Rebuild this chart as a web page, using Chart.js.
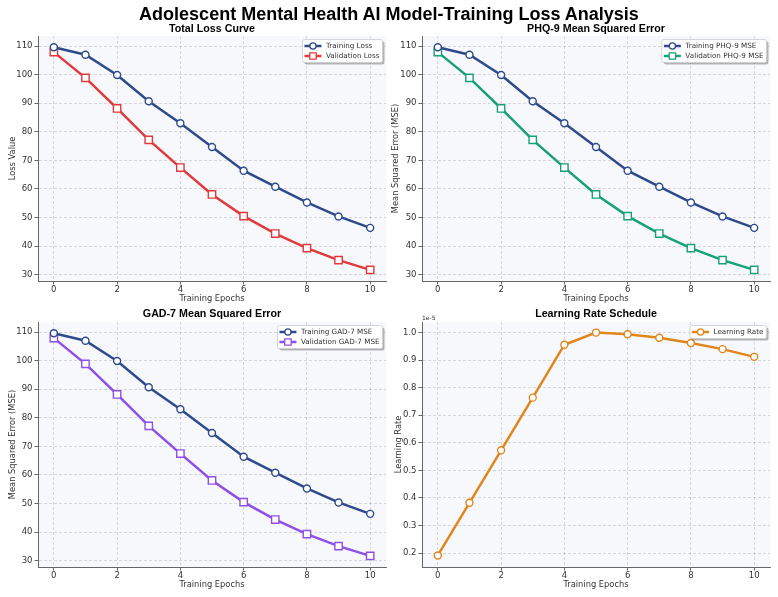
<!DOCTYPE html>
<html>
<head>
<meta charset="utf-8">
<script src="https://cdn.jsdelivr.net/npm/chart.js@4.4.1/dist/chart.umd.min.js"></script>
<style>
  body{margin:0;background:#fff;width:778px;height:597px;overflow:hidden;position:relative}
  canvas{position:absolute}
  #title{position:absolute;left:0;top:4px;width:778px;text-align:center;font:bold 18px "Liberation Sans",Arial,sans-serif;color:#000}
</style>
</head>
<body>
<canvas id="c1" width="396" height="305" style="left:0;top:0;width:396px;height:305px"></canvas>
<canvas id="c2" width="389" height="305" style="left:389px;top:0;width:389px;height:305px"></canvas>
<canvas id="c3" width="396" height="297" style="left:0;top:300px;width:396px;height:297px"></canvas>
<canvas id="c4" width="389" height="297" style="left:389px;top:300px;width:389px;height:297px"></canvas>
<div id="title">Adolescent Mental Health AI Model-Training Loss Analysis</div>
<script>
// data
const epochs = [0, 1, 2, 3, 4, 5, 6, 7, 8, 9, 10];
const trainLoss = [109.6, 107.0, 99.9, 90.7, 83.0, 74.7, 66.4, 60.8, 55.3, 50.4, 46.4];
const valLoss   = [107.9, 98.9, 88.2, 77.2, 67.5, 58.1, 50.5, 44.4, 39.3, 35.1, 31.7];
const trainPhq  = [109.6, 107.0, 99.9, 90.7, 83.0, 74.7, 66.4, 60.8, 55.3, 50.4, 46.4];
const valPhq    = [107.9, 98.9, 88.2, 77.2, 67.5, 58.1, 50.5, 44.4, 39.3, 35.1, 31.7];
const trainGad  = [109.6, 107.0, 99.9, 90.7, 83.0, 74.7, 66.4, 60.8, 55.3, 50.4, 46.4];
const valGad    = [107.9, 98.9, 88.2, 77.2, 67.5, 58.1, 50.5, 44.4, 39.3, 35.1, 31.7];
const learningRate = [1.915e-6, 3.825e-6, 5.73e-6, 7.64e-6, 9.56e-6, 1.0e-5, 9.94e-6, 9.81e-6, 9.62e-6, 9.40e-6, 9.12e-6];
const epochTicks = [0, 2, 4, 6, 8, 10];
const lossTicks = [30, 40, 50, 60, 70, 80, 90, 100, 110];
const lrTicks = [0.2e-5, 0.3e-5, 0.4e-5, 0.5e-5, 0.6e-5, 0.7e-5, 0.8e-5, 0.9e-5, 1.0e-5];

const BLUE = "#2f4a8c", RED = "#e03a3c", GREEN = "#18a078", PURPLE = "#8e4fe8", ORANGE = "#e0861c";
const tickFont = {family: "DejaVu Sans", size: 8.5};
const labelFont = {family: "DejaVu Sans", size: 8.3};

function xy(ys){ return ys.map((y, i) => ({x: epochs[i], y})); }

function series(label, ys, color, style){
  return {
    label, data: xy(ys), borderColor: color, backgroundColor: color, borderWidth: 2.5, tension: 0,
    pointStyle: style, pointRadius: style === "rect" ? 5.2 : 3.5, pointBorderWidth: 1.4,
    pointBackgroundColor: "#ffffff", pointBorderColor: color
  };
}

// plot background
const plotBg = {
  id: "plotBg",
  beforeDraw(chart){
    const {ctx, chartArea: a} = chart;
    ctx.save();
    ctx.fillStyle = "#f7f8fb";
    ctx.fillRect(a.left, a.top, a.right - a.left, a.bottom - a.top);
    ctx.restore();
  }
};

// subplot title, exponent label, boxed legend with shadow
const decor = {
  id: "decor",
  afterDraw(chart, args, o){
    const {ctx, chartArea: a} = chart;
    ctx.save();
    ctx.fillStyle = "#000";
    ctx.font = "bold 10.7px 'Liberation Sans', Arial, sans-serif";
    ctx.textAlign = "center";
    ctx.textBaseline = "middle";
    ctx.fillText(o.title, (a.left + a.right) / 2, o.titleY);

    if (o.exponent){
      ctx.font = "6px 'DejaVu Sans'";
      ctx.fillStyle = "#333";
      ctx.textAlign = "left";
      ctx.textBaseline = "bottom";
      ctx.fillText(o.exponent, a.left, a.top - 0.5);
    }

    // legend
    const ds = chart.data.datasets;
    ctx.font = "7.2px 'DejaVu Sans'";
    const tw = Math.max(...ds.map(d => ctx.measureText(d.label).width));
    const rowH = 10, padV = 1.5, sample = 17;
    const w = 2 + sample + 4.5 + tw + 3;
    const h = padV * 2 + rowH * ds.length;
    const x = a.right - 3.5 - w, y = a.top + 3.5;
    ctx.fillStyle = "rgba(0,0,0,0.28)";
    ctx.beginPath(); ctx.roundRect(x + 2, y + 2, w, h, 2); ctx.fill();
    ctx.fillStyle = "#ffffff";
    ctx.strokeStyle = "#cccccc";
    ctx.lineWidth = 0.8;
    ctx.beginPath(); ctx.roundRect(x, y, w, h, 2); ctx.fill(); ctx.stroke();
    ds.forEach((d, i) => {
      const cy = y + padV + rowH * i + rowH / 2;
      const x0 = x + 2;
      ctx.strokeStyle = d.borderColor;
      ctx.lineWidth = 2.5;
      ctx.beginPath(); ctx.moveTo(x0, cy); ctx.lineTo(x0 + sample, cy); ctx.stroke();
      ctx.fillStyle = "#ffffff";
      ctx.strokeStyle = d.borderColor;
      ctx.lineWidth = 1.3;
      ctx.beginPath();
      if (d.pointStyle === "rect"){
        const s = 3.2;
        ctx.rect(x0 + sample / 2 - s, cy - s, 2 * s, 2 * s);
      } else {
        ctx.arc(x0 + sample / 2, cy, 3.1, 0, Math.PI * 2);
      }
      ctx.fill(); ctx.stroke();
      ctx.fillStyle = "#333";
      ctx.textAlign = "left";
      ctx.textBaseline = "middle";
      ctx.fillText(d.label, x0 + sample + 4.5, cy + 0.5);
    });
    ctx.restore();
  }
};

function makePanel(id, p){
  const cv = document.getElementById(id);
  const W = cv.width, H = cv.height;
  return new Chart(cv, {
    type: "line",
    data: {datasets: p.datasets},
    plugins: [plotBg, decor],
    options: {
      responsive: false, animation: false, devicePixelRatio: 1,
      layout: {padding: {left: 0, top: p.area.top, right: W - p.area.right, bottom: 0}},
      plugins: {
        legend: {display: false}, tooltip: {enabled: false},
        decor: {title: p.title, titleY: p.titleY, exponent: p.exponent}
      },
      scales: {
        x: {
          type: "linear", min: -0.5, max: 10.5,
          afterBuildTicks: s => { s.ticks = epochTicks.map(v => ({value: v})); },
          afterFit: s => { s.height = H - p.area.bottom; },
          ticks: {font: tickFont, color: "#333", padding: 0, maxRotation: 0, callback: v => String(v)},
          grid: {color: "rgba(0,0,0,0.17)", lineWidth: 0.8, tickLength: 3.5, tickColor: "#666", tickWidth: 1, tickBorderDash: []},
          border: {display: true, color: "#666", width: 1, dash: [3, 2]},
          title: {display: true, text: "Training Epochs", font: labelFont, color: "#333", padding: {top: 0, bottom: p.xTitlePad}}
        },
        y: {
          type: "linear", min: p.yMin, max: p.yMax,
          afterBuildTicks: s => { s.ticks = p.yTicks.map(v => ({value: v})); },
          afterFit: s => { s.width = p.area.left; },
          ticks: {font: tickFont, color: "#333", padding: 2, callback: p.yFmt},
          grid: {color: "rgba(0,0,0,0.17)", lineWidth: 0.8, tickLength: 3.5, tickColor: "#666", tickWidth: 1, tickBorderDash: []},
          border: {display: true, color: "#666", width: 1, dash: [3, 2]},
          title: {display: true, text: p.yLabel, font: labelFont, color: "#333", padding: {top: p.yTitlePad, bottom: 0}}
        }
      }
    }
  });
}

const lossFmt = v => String(v);
const lrFmt = v => (v * 1e5).toFixed(1);

makePanel("c1", {
  title: "Total Loss Curve", titleY: 28.7, yLabel: "Loss Value",
  datasets: [series("Training Loss", trainLoss, BLUE, "circle"), series("Validation Loss", valLoss, RED, "rect")],
  area: {left: 38, top: 36, right: 386, bottom: 281},
  yMin: 27.8, yMax: 113.55, yTicks: lossTicks, yFmt: lossFmt, yTitlePad: 8.3, xTitlePad: 1
});
makePanel("c2", {
  title: "PHQ-9 Mean Squared Error", titleY: 28.7, yLabel: "Mean Squared Error (MSE)",
  datasets: [series("Training PHQ-9 MSE", trainPhq, BLUE, "circle"), series("Validation PHQ-9 MSE", valPhq, GREEN, "rect")],
  area: {left: 33, top: 36, right: 381, bottom: 281},
  yMin: 27.8, yMax: 113.55, yTicks: lossTicks, yFmt: lossFmt, yTitlePad: 2.3, xTitlePad: 1
});
makePanel("c3", {
  title: "GAD-7 Mean Squared Error", titleY: 14.3, yLabel: "Mean Squared Error (MSE)",
  datasets: [series("Training GAD-7 MSE", trainGad, BLUE, "circle"), series("Validation GAD-7 MSE", valGad, PURPLE, "rect")],
  area: {left: 38, top: 22, right: 386, bottom: 267},
  yMin: 27.8, yMax: 113.55, yTicks: lossTicks, yFmt: lossFmt, yTitlePad: 8.3, xTitlePad: 7
});
makePanel("c4", {
  title: "Learning Rate Schedule", titleY: 14.3, yLabel: "Learning Rate", exponent: "1e-5",
  datasets: [series("Learning Rate", learningRate, ORANGE, "circle")],
  area: {left: 33, top: 22, right: 381, bottom: 267},
  yMin: 0.1496e-5, yMax: 1.0384e-5, yTicks: lrTicks, yFmt: lrFmt, yTitlePad: 5.3, xTitlePad: 7
});
</script>
</body>
</html>
